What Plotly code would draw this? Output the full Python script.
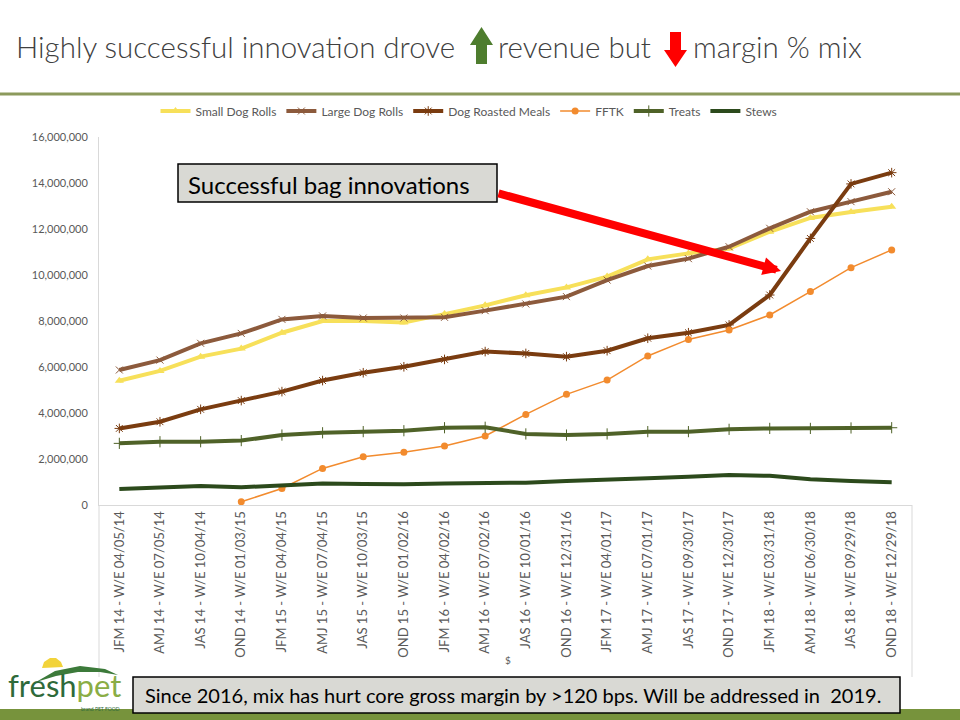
import plotly.graph_objects as go

# ---------------- data ----------------
categories = [
    "JFM 14 - W/E 04/05/14", "AMJ 14 - W/E 07/05/14", "JAS 14 - W/E 10/04/14",
    "OND 14 - W/E 01/03/15", "JFM 15 - W/E 04/04/15", "AMJ 15 - W/E 07/04/15",
    "JAS 15 - W/E 10/03/15", "OND 15 - W/E 01/02/16", "JFM 16 - W/E 04/02/16",
    "AMJ 16 - W/E 07/02/16", "JAS 16 - W/E 10/01/16", "OND 16 - W/E 12/31/16",
    "JFM 17 - W/E 04/01/17", "AMJ 17 - W/E 07/01/17", "JAS 17 - W/E 09/30/17",
    "OND 17 - W/E 12/30/17", "JFM 18 - W/E 03/31/18", "AMJ 18 - W/E 06/30/18",
    "JAS 18 - W/E 09/29/18", "OND 18 - W/E 12/29/18",
]

small_dog_rolls = [5400000, 5830000, 6450000, 6800000, 7490000, 8000000, 8000000, 7930000,
                   8300000, 8680000, 9120000, 9460000, 9930000, 10680000, 10940000, 11150000,
                   11880000, 12480000, 12740000, 12970000]
large_dog_rolls = [5870000, 6300000, 7030000, 7460000, 8070000, 8220000, 8130000, 8130000,
                   8160000, 8450000, 8740000, 9060000, 9780000, 10390000, 10710000, 11230000,
                   12030000, 12750000, 13190000, 13620000]
dog_roasted_meals = [3330000, 3620000, 4160000, 4540000, 4930000, 5410000, 5750000, 6010000,
                     6330000, 6670000, 6590000, 6450000, 6710000, 7250000, 7490000, 7830000,
                     9130000, 11590000, 13960000, 14450000]
fftk = [None, None, None, 140000, 720000, 1590000, 2100000, 2290000,
        2570000, 3000000, 3940000, 4810000, 5430000, 6480000, 7200000, 7610000,
        8260000, 9280000, 10320000, 11090000]
treats = [2680000, 2750000, 2750000, 2800000, 3040000, 3140000, 3190000, 3230000,
          3360000, 3380000, 3090000, 3040000, 3090000, 3190000, 3190000, 3290000,
          3330000, 3330000, 3350000, 3360000]
stews = [700000, 770000, 830000, 770000, 870000, 940000, 910000, 900000,
         940000, 940000, 970000, 1040000, 1120000, 1160000, 1230000, 1300000,
         1270000, 1120000, 1040000, 990000]

y_ticks = [0, 2000000, 4000000, 6000000, 8000000, 10000000, 12000000, 14000000, 16000000]

# ---------------- layout helpers ----------------
W, H = 960, 720
ML, MR, MT, MB = 99, 48, 137, 215
PW = W - ML - MR
PH = H - MT - MB


def px(x):
    return (x - ML) / PW


def py(y):
    return (H - MB - y) / PH


def path(points, close=True):
    s = "M " + " L ".join(f"{px(x):.5f},{py(y):.5f}" for x, y in points)
    return s + (" Z" if close else "")


FONT = "Lato, 'Open Sans', sans-serif"
GRAY = "#595959"

fig = go.Figure()

series = [
    ("Small Dog Rolls", small_dog_rolls, "#F7E05A", dict(symbol="triangle-up", size=8, color="#F7E05A"), 4),
    ("Large Dog Rolls", large_dog_rolls, "#8C5A3C", dict(symbol="x-thin-open", size=7, color="#8C5A3C", line=dict(width=1, color="#8C5A3C")), 4),
    ("Dog Roasted Meals", dog_roasted_meals, "#7A3C10", dict(symbol="asterisk-open", size=8, color="#7A3C10", line=dict(width=1, color="#7A3C10")), 4),
    ("FFTK", fftk, "#F28B2E", dict(symbol="circle", size=7, color="#F28B2E"), 1.5),
    ("Treats", treats, "#4F6228", dict(symbol="cross-thin-open", size=8, color="#4F6228", line=dict(width=1, color="#4F6228")), 4),
]
for name, vals, color, marker, lw in series:
    fig.add_trace(go.Scatter(
        x=categories, y=vals, name=name, mode="lines+markers",
        line=dict(color=color, width=lw), marker=marker,
        connectgaps=False,
    ))
fig.add_trace(go.Scatter(
    x=categories, y=stews, name="Stews", mode="lines",
    line=dict(color="#2C4A1C", width=4),
))

shapes = []
annotations = []

# title rule and bottom band
shapes.append(dict(type="line", xref="paper", yref="paper", x0=px(0), x1=px(960), y0=py(94), y1=py(94),
                   line=dict(color="#8C9A5C", width=3)))
shapes.append(dict(type="rect", xref="paper", yref="paper", x0=px(0), x1=px(960), y0=py(720), y1=py(709),
                   line=dict(width=0), fillcolor="#77933C"))

# chart frame extensions
for xx in (99, 912):
    shapes.append(dict(type="line", xref="paper", yref="paper", x0=px(xx), x1=px(xx), y0=py(505), y1=py(677),
                       line=dict(color="#D9D9D9", width=1)))

# title text
title_parts = [
    (14, "Highly successful innovation drove"),
    (496, "revenue but"),
    (691, "margin % mix"),
]
for x0, t in title_parts:
    annotations.append(dict(xref="paper", yref="paper", x=px(x0), y=py(47), xanchor="left", yanchor="middle",
                            text=t, showarrow=False,
                            font=dict(family=FONT, size=29.5, color="#404040", weight=300)))

# title arrows
shapes.append(dict(type="path", xref="paper", yref="paper", layer="above",
                   path=path([(476, 64), (476, 45), (470, 45), (481.5, 27), (493, 45), (487, 45), (487, 64)]),
                   fillcolor="#4E7D2E", line=dict(width=0)))
shapes.append(dict(type="path", xref="paper", yref="paper", layer="above",
                   path=path([(670, 32), (681, 32), (681, 50), (687, 50), (675.5, 67), (664, 50), (670, 50)]),
                   fillcolor="#FF0000", line=dict(width=0)))

# callout box
shapes.append(dict(type="rect", xref="paper", yref="paper", x0=px(178), x1=px(497), y0=py(202), y1=py(164),
                   fillcolor="#D9D9D4", line=dict(color="#000000", width=1.5), layer="above"))
annotations.append(dict(xref="paper", yref="paper", x=px(186), y=py(184), xanchor="left", yanchor="middle",
                        text="Successful bag innovations", showarrow=False,
                        font=dict(family=FONT, size=24, color="#000000")))
# red arrow
annotations.append(dict(xref="paper", yref="paper", x=px(781), y=py(271), text="", showarrow=True,
                        ax=497 - 781, ay=193 - 271, arrowhead=2, arrowsize=0.45, arrowwidth=8,
                        arrowcolor="#FF0000"))

# axis title "$"
annotations.append(dict(xref="paper", yref="paper", x=px(508), y=py(668), text="$", showarrow=False,
                        font=dict(family=FONT, size=10, color=GRAY)))

# bottom note
shapes.append(dict(type="rect", xref="paper", yref="paper", x0=px(133), x1=px(900), y0=py(713), y1=py(677),
                   fillcolor="#D9D9D4", line=dict(color="#000000", width=1.5), layer="above"))
annotations.append(dict(xref="paper", yref="paper", x=px(143), y=py(695), xanchor="left", yanchor="middle",
                        text="Since 2016, mix has hurt core gross margin by >120 bps. Will be addressed in  2019.",
                        showarrow=False, font=dict(family=FONT, size=20, color="#000000")))

# logo
shapes.append(dict(type="path", xref="paper", yref="paper", layer="above",
                   path=path([(36, 682), (55, 671), (80, 666), (105, 669), (118, 675), (100, 672), (78, 672), (56, 676)]),
                   fillcolor="#3C7A3A", line=dict(width=0)))
shapes.append(dict(type="path", xref="paper", yref="paper", layer="above",
                   path=path([(42, 668), (44, 662), (50, 658), (56, 658), (61, 662), (63, 667)]),
                   fillcolor="#F2D33A", line=dict(width=0)))
annotations.append(dict(xref="paper", yref="paper", x=px(7), y=py(705), xanchor="left", yanchor="bottom",
                        text='<span style="color:#2E6A3A">fresh</span><span style="color:#8AAD45">pet</span>',
                        showarrow=False, font=dict(family=FONT, size=31), borderpad=0))
annotations.append(dict(xref="paper", yref="paper", x=px(121), y=py(708.5), xanchor="right", yanchor="middle",
                        text="brand PET FOOD", showarrow=False, borderpad=0,
                        font=dict(family=FONT, size=5, color="#2E6A3A")))

fig.update_layout(
    width=W, height=H,
    margin=dict(l=ML, r=MR, t=MT, b=MB, autoexpand=False),
    paper_bgcolor="white", plot_bgcolor="white",
    font=dict(family=FONT, color=GRAY),
    showlegend=True,
    legend=dict(orientation="h", x=px(469), y=py(111), xanchor="center", yanchor="middle",
                font=dict(family=FONT, size=12, color=GRAY), itemwidth=30, tracegroupgap=0),
    shapes=shapes, annotations=annotations,
    xaxis=dict(type="category", range=[-0.5, 19.5], tickangle=-90, showgrid=False,
               showline=True, linecolor="#D9D9D9", linewidth=1, ticks="",
               tickfont=dict(family=FONT, size=13, color=GRAY), automargin=False),
    yaxis=dict(range=[0, 16000000], tickvals=y_ticks, tickformat=",d", showgrid=False,
               showline=True, linecolor="#D9D9D9", linewidth=1, ticks="", zeroline=False,
               tickfont=dict(family=FONT, size=11, color=GRAY), ticklabelstandoff=8, automargin=False),
)

fig.write_html("out.html", config={"displayModeBar": False},
               post_script="document.body.style.margin='0';document.body.style.padding='0';"
                           "document.body.style.overflow='hidden';")
